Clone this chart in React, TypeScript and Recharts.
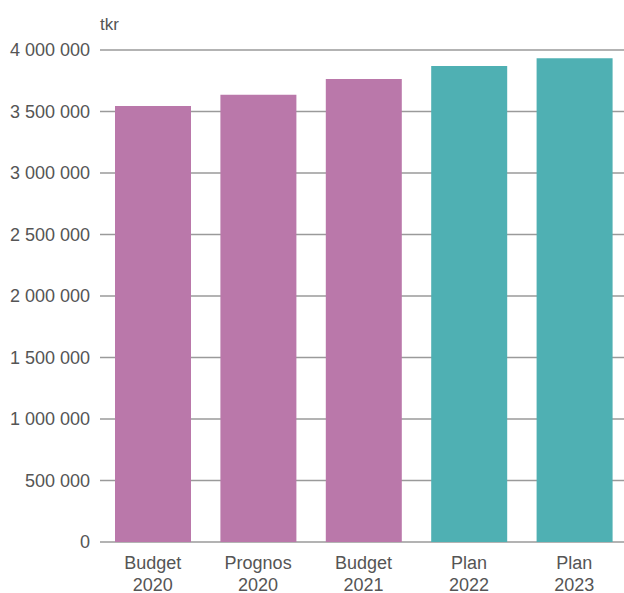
import { BarChart, Bar, XAxis, YAxis, CartesianGrid, Cell } from 'recharts';

// ── Data ──────────────────────────────────────────────────────────────────────

const categories = ['Budget 2020', 'Prognos 2020', 'Budget 2021', 'Plan 2022', 'Plan 2023'];
const values = [3545000, 3637000, 3764000, 3870000, 3932000];
const yTicks = [0, 500000, 1000000, 1500000, 2000000, 2500000, 3000000, 3500000, 4000000];
const unitLabel = 'tkr';

const PURPLE = '#BA78AA';
const TEAL = '#4FB0B3';
const TEXT = '#555555';
const GRID = '#9a9a9a';
const FONT = '"Liberation Sans", Arial, Helvetica, sans-serif';

const data = categories.map((c, i) => ({ name: c, value: values[i] }));

const fmt = (v: number) => String(v).replace(/\B(?=(\d{3})+(?!\d))/g, ' ');

// eslint-disable-next-line @typescript-eslint/no-explicit-any
function CategoryTick({ x, y, payload }: any) {
  const [top, bottom] = String(payload.value).split(' ');
  return (
    <g transform={`translate(${x},${y})`}>
      <text x={0} y={0} textAnchor="middle" fill={TEXT} fontSize={18} fontFamily={FONT}>
        <tspan x={0} dy={19}>{top}</tspan>
        <tspan x={0} dy={22}>{bottom}</tspan>
      </text>
    </g>
  );
}

export default function App() {
  return (
    <div style={{ position: 'absolute', left: 0, top: 0, width: 624, height: 593, background: '#fff', overflow: 'hidden' }}>
      <BarChart
        width={628}
        height={593}
        data={data}
        margin={{ top: 50, right: 1, left: 0, bottom: 0 }}
        barCategoryGap="28%"
      >
        <CartesianGrid horizontal vertical={false} stroke={GRID} strokeWidth={1.5} />
        <XAxis
          dataKey="name"
          axisLine={false}
          tickLine={false}
          interval={0}
          height={51}
          tick={<CategoryTick />}
        />
        <YAxis
          domain={[0, 4000000]}
          ticks={yTicks}
          width={100}
          axisLine={false}
          tickLine={false}
          tickSize={8}
          tickFormatter={fmt}
          tick={{ fontSize: 18, fill: TEXT, fontFamily: FONT }}
        />
        <Bar dataKey="value" barSize={76} isAnimationActive={false}>
          {data.map((d, i) => (
            <Cell key={`cell-${i}`} fill={d.name.startsWith('Plan') ? TEAL : PURPLE} />
          ))}
        </Bar>
      </BarChart>
      <div style={{ position: 'absolute', left: 100, top: 15, fontSize: 17, color: TEXT, fontFamily: FONT }}>
        {unitLabel}
      </div>
    </div>
  );
}
